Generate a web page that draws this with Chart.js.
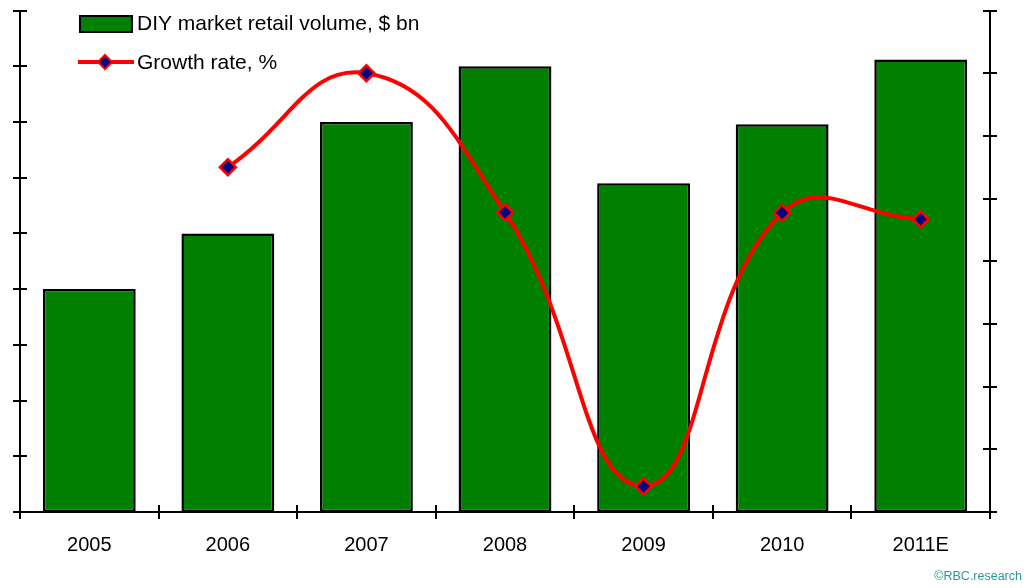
<!DOCTYPE html>
<html>
<head>
<meta charset="utf-8">
<script src="https://cdn.jsdelivr.net/npm/chart.js@4"></script>
<style>
  html, body { margin: 0; padding: 0; background: #fff; }
  #wrap { position: relative; width: 1028px; height: 588px; }
  #note { position: absolute; right: 6px; top: 569px; font: 12.5px "Liberation Sans", Arial, sans-serif; color: #2a9a94; }
</style>
</head>
<body>
<div id="wrap">
  <canvas id="grafico" width="1028" height="588"></canvas>
  <div id="note">©RBC.research</div>
</div>
<script>
const anios = ['2005', '2006', '2007', '2008', '2009', '2010', '2011E'];
const volumen = [20, 25, 35, 40, 29.5, 34.8, 40.6];      // $ bn
const crecimiento = [null, 25, 40, 17.8, -25.9, 17.7, 16.7]; // %
const ticksIzq = [0, 5, 10, 15, 20, 25, 30, 35, 40, 45];
const ticksDer = [-30, -20, -10, 0, 10, 20, 30, 40, 50];

const fuente = '"Liberation Sans", Arial, sans-serif';

// marcas de los ejes que cruzan la linea, y la leyenda
const extras = {
    id: 'extras',
    afterDraw(chart) {
        const c = chart.ctx;
        const x = chart.scales.x, y = chart.scales.y, y1 = chart.scales.y1;
        c.save();
        c.strokeStyle = '#000';
        c.lineWidth = 2;
        c.beginPath();
        ticksIzq.forEach(v => {
            const p = Math.round(y.getPixelForValue(v));
            c.moveTo(x.left - 7, p); c.lineTo(x.left + 7, p);
        });
        ticksDer.forEach(v => {
            const p = Math.round(y1.getPixelForValue(v));
            c.moveTo(x.right - 7, p); c.lineTo(x.right + 7, p);
        });
        for (let i = 0; i <= anios.length; i++) {
            const p = Math.round(x.getPixelForValue(i - 0.5));
            c.moveTo(p, y.bottom - 7); c.lineTo(p, y.bottom + 7);
        }
        c.stroke();

        // leyenda
        c.fillStyle = '#008000';
        c.fillRect(80, 16, 52, 16);
        c.strokeRect(80, 16, 52, 16);
        c.strokeStyle = '#ff0000';
        c.lineWidth = 4;
        c.beginPath();
        c.moveTo(78, 62); c.lineTo(134, 62);
        c.stroke();
        c.beginPath();
        c.moveTo(105, 55); c.lineTo(112, 62); c.lineTo(105, 69); c.lineTo(98, 62); c.closePath();
        c.fillStyle = '#000080';
        c.lineWidth = 2;
        c.fill(); c.stroke();
        c.fillStyle = '#000';
        c.font = '21px ' + fuente;
        c.textBaseline = 'middle';
        c.fillText('DIY market retail volume, $ bn', 137, 24);
        c.fillText('Growth rate, %', 137, 63);
        c.restore();
    }
};

const ctx = document.getElementById('grafico').getContext('2d');

const chart = new Chart(ctx, {
    type: 'bar',
    data: {
        labels: anios,
        datasets: [{
            type: 'line',
            label: 'Growth rate, %',
            data: crecimiento,
            yAxisID: 'y1',
            borderColor: '#ff0000',
            borderWidth: 4,
            tension: 0.45,
            pointStyle: 'rectRot',
            pointRadius: 8,
            pointBackgroundColor: '#000080',
            pointBorderColor: '#ff0000',
            pointBorderWidth: 2.5,
            order: 0
        }, {
            label: 'DIY market retail volume, $ bn',
            data: volumen,
            yAxisID: 'y',
            backgroundColor: '#008000',
            borderColor: '#000',
            borderWidth: 2.5,
            borderSkipped: false,
            barPercentage: 0.67,
            categoryPercentage: 1,
            order: 1
        }]
    },
    options: {
        responsive: false,
        animation: false,
        layout: { padding: { left: 12, right: 30, top: 10, bottom: 18 } },
        elements: { line: { capBezierPoints: false } },
        plugins: {
            legend: { display: false },
            tooltip: { enabled: false }
        },
        scales: {
            x: {
                grid: { display: false },
                border: { color: '#000', width: 2 },
                ticks: { color: '#000', font: { family: fuente, size: 20 }, padding: 13, maxRotation: 0 }
            },
            y: {
                position: 'left',
                min: 0, max: 45,
                ticks: { display: false, stepSize: 5 },
                grid: { display: false },
                border: { color: '#000', width: 2 }
            },
            y1: {
                position: 'right',
                min: -30, max: 50,
                ticks: { display: false, stepSize: 10 },
                grid: { display: false },
                border: { color: '#000', width: 2 }
            }
        }
    },
    plugins: [extras]
});
</script>
</body>
</html>
